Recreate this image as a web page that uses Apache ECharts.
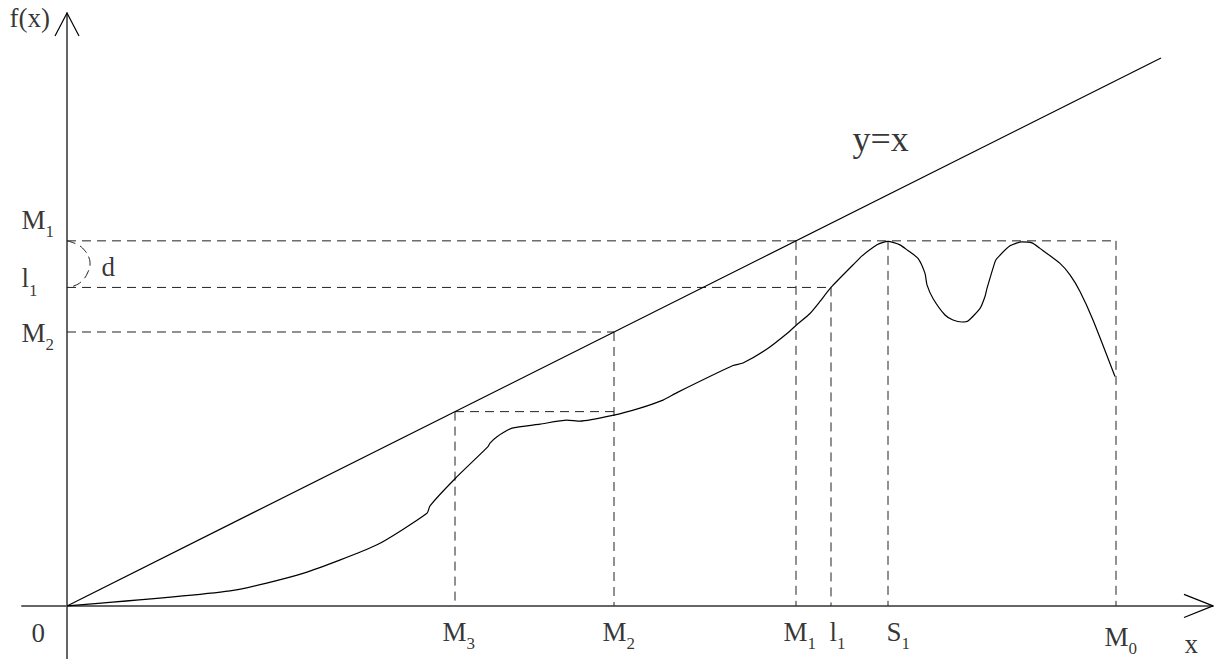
<!DOCTYPE html>
<html><head><meta charset="utf-8">
<script src="https://cdn.jsdelivr.net/npm/echarts@6.0.0/dist/echarts.min.js"></script>
<style>html,body{margin:0;padding:0;background:#fff}#c{width:1216px;height:659px}</style>
</head><body><div id="c"></div>
<script>
// ---- data (x in axis units, y in axis units; line y = x) ----
const xMarkNames = ['M3', 'M2', 'M1', 'l1', 'S1', 'M0'];
const xMarkValues = [388, 547, 729, 764, 821, 1049];
const yMarkNames = ['M1', 'l1', 'M2'];
const yMarkValues = [729, 636, 547];
const m3Level = 388;
const identityX = [0, 1094];
const curveX = [0, 163, 236, 310, 360, 363, 388, 421, 423, 430, 445, 473, 500, 513, 547, 573, 596, 610, 666, 676, 700, 720, 730, 743, 753, 764, 791, 795, 810, 816, 821, 826, 833, 840, 851, 858, 860, 866, 878, 886, 895, 901, 913, 918, 920, 928, 930, 943, 955, 965, 973, 993, 1003, 1013, 1026, 1048];
const curveY = [0, 30, 65, 122, 185, 200, 254, 318, 325, 338, 355, 363, 371, 369, 381, 395, 411, 426, 480, 485, 513, 544, 562, 584, 608, 636, 691, 699, 721, 726, 728, 726, 721, 711, 694, 664, 641, 614, 581, 571, 567, 569, 594, 618, 634, 687, 694, 719, 727, 725, 714, 684, 661, 628, 571, 458];
const arcX = [0, 11, 18, 22, 23, 21, 15, 7, 0];
const arcY = [729, 721, 709, 695, 683, 667, 649, 639, 636];

// ---- layout / style ----
const FONT = 'Liberation Serif, Times New Roman, serif';
const xLabelPos = [[-12, 13], [-11, 13], [-12, 13], [-1, 13], [-1, 13], [-11, 18]];
const yLabelPos = [[-45, -34], [-45, -22], [-45, -12]];

const xv = n => xMarkValues[xMarkNames.indexOf(n)];
const yv = n => yMarkValues[yMarkNames.indexOf(n)];
const sub = n => '{m|' + n.slice(0, -1) + '}{s|' + n.slice(-1) + '}';

const guides = [
  [[0, yv('M1')], [xv('M0'), yv('M1')]],
  [[0, yv('l1')], [xv('l1'), yv('l1')]],
  [[0, yv('M2')], [xv('M2'), yv('M2')]],
  [[xv('M3'), m3Level], [xv('M2'), m3Level]],
  [[xv('M3'), m3Level], [xv('M3'), 0]],
  [[xv('M2'), yv('M2')], [xv('M2'), 0]],
  [[xv('M1'), yv('M1')], [xv('M1'), 0]],
  [[xv('l1'), yv('l1')], [xv('l1'), 0]],
  [[xv('S1'), yv('M1')], [xv('S1'), 0]],
  [[xv('M0'), yv('M1')], [xv('M0'), 0]]
];

const dashStyle = { color: '#222', width: 1, type: [9, 6] };
const series = [];
guides.forEach(g => series.push({
  type: 'line', data: g, symbol: 'none', silent: true, clip: false,
  lineStyle: dashStyle, z: 1
}));
series.push({
  type: 'line', data: arcX.map((x, i) => [x, arcY[i]]), symbol: 'none', smooth: 0.5,
  silent: true, clip: false, lineStyle: { color: '#222', width: 1, type: [9, 5] }, z: 1
});
series.push({
  type: 'line', data: identityX.map(x => [x, x]), symbol: 'none', silent: true, clip: false,
  lineStyle: { color: '#000', width: 1.2 }, z: 3
});
series.push({
  type: 'line', data: curveX.map((x, i) => [x, curveY[i]]), symbol: 'none', smooth: 0.2,
  silent: true, clip: false, lineStyle: { color: '#000', width: 1.2 }, z: 3
});
// arrow heads
series.push({
  type: 'line', data: [[1117, 23], [1146, 0], [1117, -23]], symbol: 'none', silent: true, clip: false,
  lineStyle: { color: '#000', width: 1.2 }, z: 4
});
series.push({
  type: 'line', data: [[-12, 1138], [0, 1184], [12, 1138]], symbol: 'none', silent: true, clip: false,
  lineStyle: { color: '#000', width: 1.2 }, z: 4
});

const rich = {
  m: { fontFamily: FONT, fontSize: 27, lineHeight: 26, verticalAlign: 'top', color: '#000' },
  s: { fontFamily: FONT, fontSize: 17, lineHeight: 34, verticalAlign: 'bottom', color: '#000' },
  big: { fontFamily: FONT, fontSize: 36, lineHeight: 36, verticalAlign: 'top', color: '#000' }
};
const labelItems = [];
xMarkNames.forEach((n, i) => labelItems.push({ value: [xMarkValues[i], 0], text: sub(n), pos: xLabelPos[i] }));
yMarkNames.forEach((n, i) => labelItems.push({ value: [0, yMarkValues[i]], text: sub(n), pos: yLabelPos[i] }));
labelItems.push({ value: [0, 0], text: '{m|0}', pos: [-35, 14] });
labelItems.push({ value: [1118, 0], text: '{m|x}', pos: [0, 25] });
labelItems.push({ value: [0, 1184], text: '{m|f(x)}', pos: [-57, -8] });
labelItems.push({ value: [0, 636], text: '{m|d}', pos: [35, -33] });
labelItems.push({ value: [786, 967], text: '{big|y=x}', pos: [0, 0] });

series.push({
  type: 'scatter', symbolSize: 1, clip: false, silent: true, z: 10,
  itemStyle: { color: 'rgba(0,0,0,0)' },
  data: labelItems.map(it => ({
    value: it.value,
    label: { show: true, formatter: () => it.text, position: it.pos, rich: rich }
  }))
});

const chart = echarts.init(document.getElementById('c'), null, { renderer: 'svg' });
chart.setOption({
  animation: false,
  backgroundColor: '#fff',
  grid: { left: 22, right: 3, top: 13, bottom: 0, containLabel: false },
  xAxis: {
    type: 'value', min: -45, max: 1146,
    axisLine: { onZero: true, lineStyle: { color: '#666', width: 2 } },
    axisTick: { show: false }, axisLabel: { show: false }, splitLine: { show: false }
  },
  yAxis: {
    type: 'value', min: -106, max: 1184,
    axisLine: { onZero: true, lineStyle: { color: '#666', width: 2 } },
    axisTick: { show: false }, axisLabel: { show: false }, splitLine: { show: false }
  },
  series: series
});
</script>
</body></html>
